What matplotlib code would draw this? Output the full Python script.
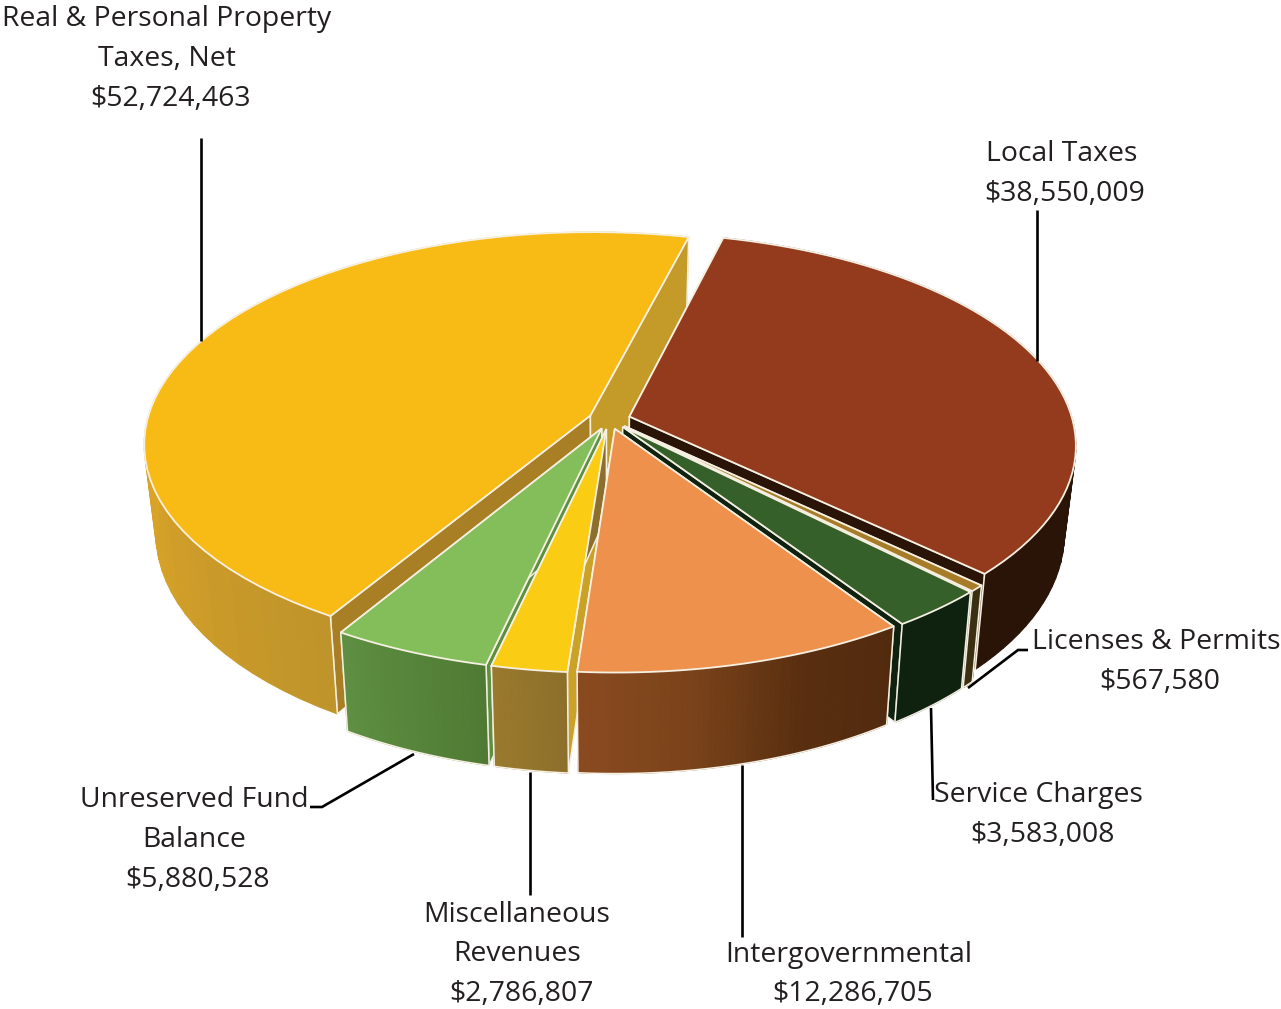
import numpy as np
import matplotlib
matplotlib.use('Agg')
import matplotlib.pyplot as plt
from matplotlib.patches import Polygon
from matplotlib.colors import to_rgb

# clockwise from the top, starting at the brown slice
categories = ['Local Taxes', 'Licenses & Permits', 'Service Charges', 'Intergovernmental',
              'Miscellaneous Revenues', 'Unreserved Fund Balance', 'Real & Personal Property Taxes, Net']
values = [38550009, 567580, 3583008, 12286705, 2786807, 5880528, 52724463]

top_colors = ['#933B1C', '#A67C28', '#356029', '#EE914D', '#FACC14', '#83BE5B', '#F8BA14']
start_face = ['#2A1408', '#3A2F10', '#0F2210', '#6A3A18', '#C9A227', '#5E8F42', '#A97F25']
end_face = ['#2A1408', '#3A2F10', '#0F2210', '#6A3A18', '#8C6F2C', '#5E8F42', '#C49A28']
wall_colors = [['#2A1408', '#2A1408'],
               ['#3A2F10', '#3A2F10'],
               ['#0F2210', '#0F2210'],
               ['#522A0E', '#5A2F10', '#7A431A', '#8A4A20'],
               ['#8C6F2C', '#9A7A2C'],
               ['#4F7A33', '#5E8F42'],
               ['#BF942A', '#D6A128', '#E2A828', '#E2A828', '#E2A828']]
# back to front
draw_order = [6, 0, 1, 2, 5, 4, 3]
# the two big slices have no light line along the lower rim
rim_line = [False, True, True, True, True, True, False]

label_lines = [('Real & Personal Property', 167, 19), ('Taxes, Net', 167, 59), ('$52,724,463', 170, 99),
               ('Local Taxes', 1062, 154), ('$38,550,009', 1065, 194),
               ('Licenses & Permits', 1156, 642), ('$567,580', 1160, 682),
               ('Service Charges', 1038, 795), ('$3,583,008', 1042, 835),
               ('Intergovernmental', 849, 955), ('$12,286,705', 853, 994),
               ('Miscellaneous', 517, 915), ('Revenues', 517, 954), ('$2,786,807', 521, 994),
               ('Unreserved Fund', 194, 800), ('Balance', 194, 840), ('$5,880,528', 198, 880)]
leaders = [[(201, 138), (201, 341)],
           [(1037, 210), (1037, 361)],
           [(968, 688), (1018, 650), (1028, 650)],
           [(931, 708), (933, 800)],
           [(742, 765), (742, 937)],
           [(530, 772), (530, 895)],
           [(414, 754), (322, 807), (310, 807)]]

cx, cy, rx, ry = 609.5, 428, 464, 219.8
persp = 0.139
depth = 87.5
taper = 0.025
radius = 0.96
explode = 0.045
shift_v = -0.04
start_deg = 14.2
edge = '#F6F0E2'


def project(u, v, z=0.0):
    s = 1 / (1 - persp * v)
    return (cx + rx * u * s * (1 - taper * z), cy + ry * v * s + depth * z * s)


def lerp_color(stops, f):
    stops = [np.array(to_rgb(c)) for c in stops]
    pos = f * (len(stops) - 1)
    i = min(int(pos), len(stops) - 2)
    return tuple(stops[i] + (stops[i + 1] - stops[i]) * (pos - i))


def draw_wall(us, vs, stops, front):
    for j in range(len(us) - 1):
        if (vs[j] >= 0) != front:
            continue
        quad = [project(us[j], vs[j]), project(us[j + 1], vs[j + 1]),
                project(us[j + 1], vs[j + 1], 1), project(us[j], vs[j], 1)]
        col = lerp_color(stops, j / (len(us) - 2))
        ax.add_patch(Polygon(quad, fc=col, ec=col, lw=0.8))


fig = plt.figure(figsize=(12.81, 10.09), dpi=100)
ax = fig.add_axes([0, 0, 1, 1])
ax.set_xlim(0, 1281)
ax.set_ylim(1009, 0)
ax.axis('off')

spans = np.array(values) / sum(values) * 360
starts = start_deg + np.concatenate([[0], np.cumsum(spans)[:-1]])

for i in draw_order:
    t0, t1 = np.radians(starts[i]), np.radians(starts[i] + spans[i])
    mid = (t0 + t1) / 2
    au = explode * np.sin(mid)
    av = shift_v - explode * np.cos(mid)
    ts = np.linspace(t0, t1, 60)
    us = au + radius * np.sin(ts)
    vs = av - radius * np.cos(ts)

    draw_wall(us, vs, wall_colors[i], False)

    face_a = [project(au, av), project(us[0], vs[0]), project(us[0], vs[0], 1), project(au, av, 1)]
    face_b = [project(au, av), project(us[-1], vs[-1]), project(us[-1], vs[-1], 1), project(au, av, 1)]
    ax.add_patch(Polygon(face_a, fc=start_face[i], ec=edge, lw=1.1))
    ax.add_patch(Polygon(face_b, fc=end_face[i], ec=edge, lw=1.1))

    draw_wall(us, vs, wall_colors[i], True)

    if rim_line[i]:
        low = [project(u, v, 1) for u, v in zip(us, vs)]
        ax.plot(*zip(*low), color=edge, lw=1.1)
    for u, v in ((us[0], vs[0]), (us[-1], vs[-1])):
        if v > 0:
            ax.plot(*zip(project(u, v), project(u, v, 1)), color=edge, lw=1.1)

    top = [project(au, av)] + [project(u, v) for u, v in zip(us, vs)]
    ax.add_patch(Polygon(top, fc=top_colors[i], ec=edge, lw=1.3))

for pts in leaders:
    xs, ys = zip(*pts)
    ax.plot(xs, ys, color='black', lw=1.9, solid_capstyle='butt', solid_joinstyle='miter')

for text, x, y in label_lines:
    ax.text(x, y, text, ha='center', va='center', fontsize=20.4, family='Open Sans', color='#231F20')

fig.savefig('out.png', dpi=100)
